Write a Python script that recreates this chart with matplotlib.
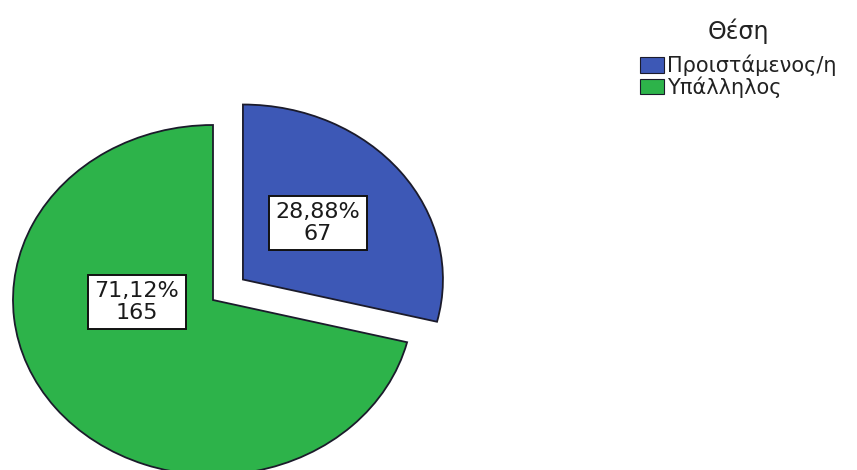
import matplotlib
matplotlib.use("Agg")
import matplotlib.pyplot as plt
from matplotlib.patches import Patch

categories = ["Προιστάμενος/η", "Υπάλληλος"]
counts = [67, 165]
legend_title = "Θέση"
colors = ["#3D58B6", "#2DB34A"]
explode = [0.19, 0.0]
label_pos = [(0.525, 0.44), (-0.38, -0.011)]

plt.rcParams['font.family'] = ['DejaVu Sans']

fig = plt.figure(figsize=(8.57, 4.70), dpi=100)
ax = fig.add_axes([0, 0, 1, 1])
total = sum(counts)
ax.pie(counts, colors=colors, startangle=90, counterclock=False, explode=explode,
       radius=1.0, center=(0, 0), frame=True,
       wedgeprops=dict(edgecolor="#1b1b2b", linewidth=1.3))
ax.set_aspect('auto')
ax.set_xlim(-213/200, (857-213)/200)
ax.set_ylim(-170/175, 300/175)
ax.axis('off')

for c, (x, y) in zip(counts, label_pos):
    pct = f"{c/total*100:.2f}%".replace(".", ",")
    ax.text(x, y, f"{pct}\n{c}", ha="center", va="center", fontsize=16,
            linespacing=1.08, color="#1a1a1a",
            bbox=dict(boxstyle="square,pad=0.3", fc="white", ec="#111111", lw=1.4))

handles = [Patch(facecolor=col, edgecolor="#1b1b2b", linewidth=0.8) for col in colors]
leg = fig.legend(handles, categories, title=legend_title, loc="upper left",
                 bbox_to_anchor=(640/857, 1 - 18/470), frameon=False,
                 fontsize=15, title_fontsize=17, handlelength=1.15, handleheight=0.78,
                 handletextpad=0.15, labelspacing=0.0, borderpad=0, borderaxespad=0)
leg._legend_box.sep = 8
leg.get_title().set_color("#222222")
for t in leg.get_texts():
    t.set_color("#222222")

fig.savefig("out.png", dpi=100)
